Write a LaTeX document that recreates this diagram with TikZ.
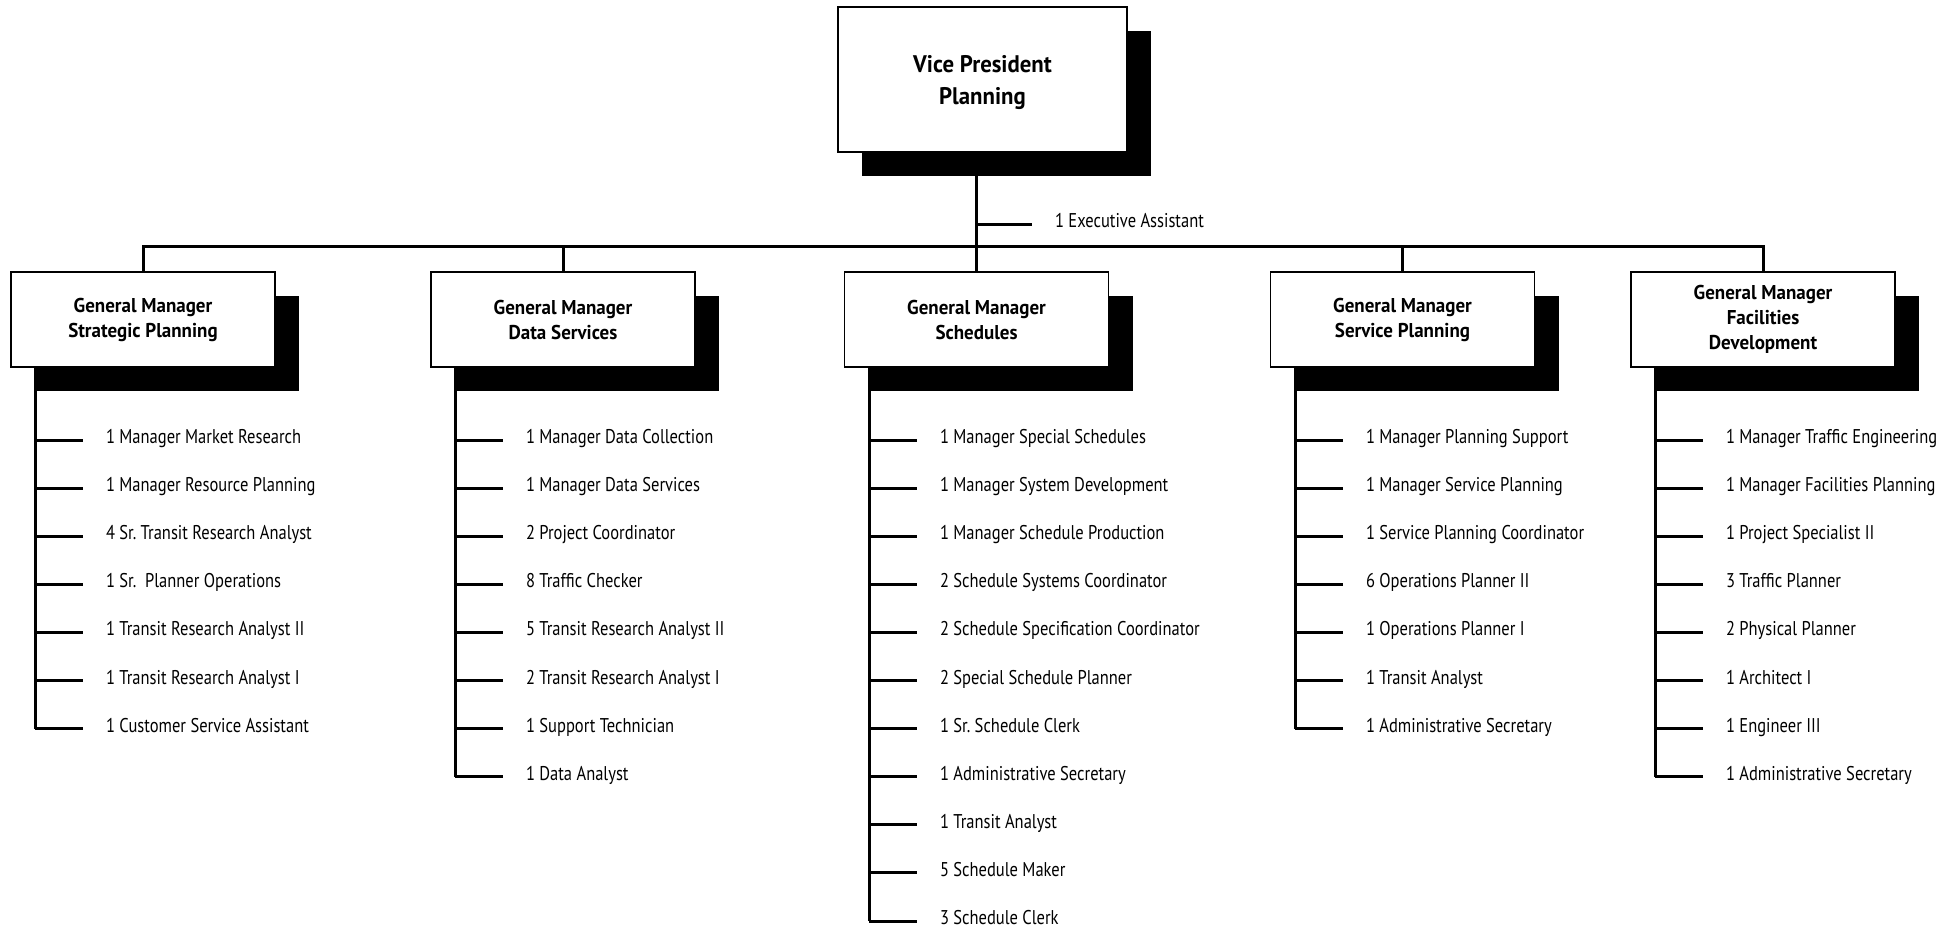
\documentclass[tikz,border=0pt]{standalone}
\usepackage{fontspec}
\setmainfont{PT Sans}[FakeStretch=0.83,BoldFeatures={FakeStretch=0.95}]
\usetikzlibrary{shadows}
\frenchspacing

% one staff list below a manager box: #1 manager node, #2 spine x, #3 positions
\newcommand\stafflist[3]{%
  \foreach \t [count=\i] in {#3} {
    \pgfmathsetmacro\yy{440+48.1*(\i-1)}
    \coordinate (#1-s\i) at (#2,\yy);
    \node[item] (#1-i\i) at (#2+48,\yy) {\t};
    \draw[conn] (#1-s\i) -- (#1-i\i.west);
    \xdef\lastitem{\i}
  }
  \draw[conn] (#1-s1 |- #1.south) -- (#1-s\lastitem);
}

\begin{document}
\begin{tikzpicture}[x=1pt,y=-1pt,
  conn/.style={line width=3pt},
  boxshadow/.style={drop shadow={shadow xshift=24pt,shadow yshift=-24pt,opacity=1,fill=black}},
  gmbox/.style={draw,line width=1.8pt,fill=white,minimum width=264pt,minimum height=95pt,
    align=center,inner sep=2pt,font=\fontsize{20}{25}\selectfont\bfseries,boxshadow},
  vpbox/.style={draw,line width=1.8pt,fill=white,minimum width=289pt,minimum height=145pt,
    align=center,font=\fontsize{24}{32}\selectfont\bfseries,boxshadow},
  item/.style={anchor=west,inner sep=0pt,outer xsep=23pt,text height=0.7em,text depth=0pt,
    font=\fontsize{19.9}{22}\selectfont}]
\useasboundingbox (0,0) rectangle (1959,929);

% managers
\node[vpbox] (vp) at (982.5,79.5) {\rule{0pt}{24pt}Vice President\\Planning};
\node[gmbox] (gm1) at (143,319.5) {General Manager\\Strategic Planning};
\node[gmbox] (gm2) at (563,319.5) {General Manager\\Data Services};
\node[gmbox] (gm3) at (976.5,319.5) {General Manager\\Schedules};
\node[gmbox] (gm4) at (1402.5,319.5) {General Manager\\Service Planning};
\node[gmbox] (gm5) at (1763,319.5) {General Manager\\Facilities\\Development};

% reporting lines from the vice president
\draw[conn] (vp.south -| gm3.north) -- (gm3.north);
\draw[conn] (gm1.north) -- ++(0,-25) -| (gm5.north);
\draw[conn] (gm2.north) -- ++(0,-25);
\draw[conn] (gm4.north) -- ++(0,-25);

\coordinate (eaj) at (gm3.north |- 0,224);
\node[item] (ea) at (1032,224) {1 Executive Assistant};
\draw[conn] (eaj) -- (ea.west);

% staff of each general manager
\stafflist{gm1}{35}{1 Manager Market Research,1 Manager Resource Planning,4 Sr. Transit Research Analyst,1 Sr.\ \ Planner Operations,1 Transit Research Analyst II,1 Transit Research Analyst I,1 Customer Service Assistant}
\stafflist{gm2}{455}{1 Manager Data Collection,1 Manager Data Services,2 Project Coordinator,8 Traffic Checker,5 Transit Research Analyst II,2 Transit Research Analyst I,1 Support Technician,1 Data Analyst}
\stafflist{gm3}{869}{1 Manager Special Schedules,1 Manager System Development,1 Manager Schedule Production,2 Schedule Systems Coordinator,2 Schedule Specification Coordinator,2 Special Schedule Planner,1 Sr. Schedule Clerk,1 Administrative Secretary,1 Transit Analyst,5 Schedule Maker,3 Schedule Clerk}
\stafflist{gm4}{1295}{1 Manager Planning Support,1 Manager Service Planning,1 Service Planning Coordinator,6 Operations Planner II,1 Operations Planner I,1 Transit Analyst,1 Administrative Secretary}
\stafflist{gm5}{1655}{1 Manager Traffic Engineering,1 Manager Facilities Planning,1 Project Specialist II,3 Traffic Planner,2 Physical Planner,1 Architect I,1 Engineer III,1 Administrative Secretary}
\end{tikzpicture}
\end{document}
